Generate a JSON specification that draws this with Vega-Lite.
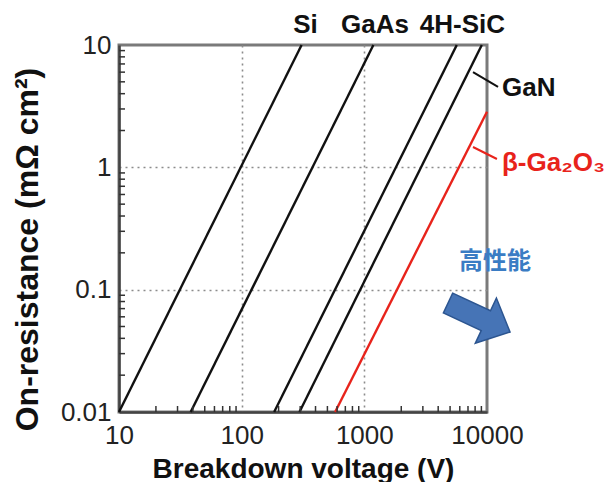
{
  "$schema": "https://vega.github.io/schema/vega-lite/v6.json",
  "width": 368,
  "height": 367,
  "autosize": {"type": "none"},
  "padding": {"left": 119, "top": 45, "right": 123, "bottom": 70},
  "background": "white",
  "config": {"view": {"stroke": "#7a7a7a", "strokeWidth": 3}, "font": "Liberation Sans"},
  "datasets": {
    "lines": [
      {"material": "Si", "V": 10, "R": 0.01}, {"material": "Si", "V": 308, "R": 10},
      {"material": "GaAs", "V": 38.4, "R": 0.01}, {"material": "GaAs", "V": 1185, "R": 10},
      {"material": "4H-SiC", "V": 184, "R": 0.01}, {"material": "4H-SiC", "V": 5670, "R": 10},
      {"material": "GaN", "V": 296, "R": 0.01}, {"material": "GaN", "V": 9070, "R": 10},
      {"material": "β-Ga2O3", "V": 578, "R": 0.01}, {"material": "β-Ga2O3", "V": 10000, "R": 2.85}
    ],
    "toplabels": [
      {"material": "Si", "label": "Si", "V": 331, "R": 14.6},
      {"material": "GaAs", "label": "GaAs", "V": 1222, "R": 14.6},
      {"material": "4H-SiC", "label": "4H-SiC", "V": 6310, "R": 14.6}
    ],
    "sidelabels": [
      {"material": "GaN", "label": "GaN", "V": 13250, "R": 4.45},
      {"material": "β-Ga2O3", "label": "β-Ga₂O₃", "V": 13250, "R": 1.085}
    ],
    "note": [{"material": "高性能", "label": "高性能", "V": 11620, "R": 0.168}],
    "leaders": [
      {"material": "GaN", "V": 7690, "R": 6.0, "V2": 12300, "R2": 4.54},
      {"material": "β-Ga2O3", "V": 7690, "R": 1.466, "V2": 12050, "R2": 1.17}
    ],
    "arrow": [{"material": "高性能", "V": 8610, "R": 0.0592}],
    "xminor": [
      {"material": "Si", "V": 20, "R": 0.01}, {"material": "Si", "V": 30, "R": 0.01}, {"material": "Si", "V": 40, "R": 0.01}, {"material": "Si", "V": 50, "R": 0.01}, {"material": "Si", "V": 60, "R": 0.01}, {"material": "Si", "V": 70, "R": 0.01}, {"material": "Si", "V": 80, "R": 0.01}, {"material": "Si", "V": 90, "R": 0.01},
      {"material": "Si", "V": 200, "R": 0.01}, {"material": "Si", "V": 300, "R": 0.01}, {"material": "Si", "V": 400, "R": 0.01}, {"material": "Si", "V": 500, "R": 0.01}, {"material": "Si", "V": 600, "R": 0.01}, {"material": "Si", "V": 700, "R": 0.01}, {"material": "Si", "V": 800, "R": 0.01}, {"material": "Si", "V": 900, "R": 0.01},
      {"material": "Si", "V": 2000, "R": 0.01}, {"material": "Si", "V": 3000, "R": 0.01}, {"material": "Si", "V": 4000, "R": 0.01}, {"material": "Si", "V": 5000, "R": 0.01}, {"material": "Si", "V": 6000, "R": 0.01}, {"material": "Si", "V": 7000, "R": 0.01}, {"material": "Si", "V": 8000, "R": 0.01}, {"material": "Si", "V": 9000, "R": 0.01}
    ],
    "yminor": [
      {"material": "Si", "V": 10, "R": 0.02}, {"material": "Si", "V": 10, "R": 0.03}, {"material": "Si", "V": 10, "R": 0.04}, {"material": "Si", "V": 10, "R": 0.05}, {"material": "Si", "V": 10, "R": 0.06}, {"material": "Si", "V": 10, "R": 0.07}, {"material": "Si", "V": 10, "R": 0.08}, {"material": "Si", "V": 10, "R": 0.09},
      {"material": "Si", "V": 10, "R": 0.2}, {"material": "Si", "V": 10, "R": 0.3}, {"material": "Si", "V": 10, "R": 0.4}, {"material": "Si", "V": 10, "R": 0.5}, {"material": "Si", "V": 10, "R": 0.6}, {"material": "Si", "V": 10, "R": 0.7}, {"material": "Si", "V": 10, "R": 0.8}, {"material": "Si", "V": 10, "R": 0.9},
      {"material": "Si", "V": 10, "R": 2}, {"material": "Si", "V": 10, "R": 3}, {"material": "Si", "V": 10, "R": 4}, {"material": "Si", "V": 10, "R": 5}, {"material": "Si", "V": 10, "R": 6}, {"material": "Si", "V": 10, "R": 7}, {"material": "Si", "V": 10, "R": 8}, {"material": "Si", "V": 10, "R": 9}
    ]
  },
  "encoding": {
    "x": {
      "field": "V", "type": "quantitative",
      "scale": {"type": "log", "domain": [10, 10000], "nice": false},
      "title": "Breakdown voltage (V)",
      "axis": {
        "values": [10, 100, 1000, 10000],
        "format": "d",
        "labelOverlap": false, "labelFlush": false, "labelBound": false,
        "labelFontSize": 26, "labelColor": "#222", "labelFont": "Liberation Sans",
        "labelPadding": 10,
        "ticks": false,
        "grid": true, "gridColor": "#8c8c8c", "gridDash": [2, 4], "gridWidth": 1.6,
        "gridOpacity": {"condition": {"test": "datum.value == 100 || datum.value == 1000", "value": 1}, "value": 0},
        "domainColor": "#444", "domainWidth": 2.5,
        "titleFontSize": 28, "titleFont": "Liberation Sans", "titleFontWeight": "bold", "titleColor": "#111", "titlePadding": 7
      }
    },
    "y": {
      "field": "R", "type": "quantitative",
      "scale": {"type": "log", "domain": [0.01, 10], "nice": false},
      "title": "On-resistance (mΩ cm²)",
      "axis": {
        "values": [0.01, 0.1, 1, 10],
        "format": "~g",
        "labelOverlap": false, "labelFlush": false, "labelBound": false,
        "labelFontSize": 26, "labelColor": "#222", "labelFont": "Liberation Sans",
        "labelPadding": 8,
        "ticks": false,
        "grid": true, "gridColor": "#8c8c8c", "gridDash": [2, 4], "gridWidth": 1.6,
        "gridOpacity": {"condition": {"test": "datum.value == 0.1 || datum.value == 1", "value": 1}, "value": 0},
        "domainColor": "#444", "domainWidth": 2.5,
        "titleFontSize": 32, "titleFont": "Liberation Sans", "titleFontWeight": "bold", "titleColor": "#111", "titlePadding": 16,
        "titleY": 204
      }
    },
    "color": {
      "field": "material", "type": "nominal",
      "scale": {"domain": ["Si", "GaAs", "4H-SiC", "GaN", "β-Ga2O3", "高性能"], "range": ["#111111", "#111111", "#111111", "#111111", "#e8231b", "#3a7cc4"]},
      "legend": null
    }
  },
  "layer": [
    {
      "data": {"name": "lines"},
      "mark": {"type": "line", "strokeWidth": 2.4},
      "encoding": {"detail": {"field": "material"}}
    },
    {
      "data": {"name": "xminor"},
      "mark": {"type": "point", "shape": "M 0 0 L 0 -1", "filled": false, "size": 144, "strokeWidth": 1.5, "opacity": 1},
      "encoding": {"color": {"value": "#333333"}}
    },
    {
      "data": {"name": "yminor"},
      "mark": {"type": "point", "shape": "M 0 0 L 1 0", "filled": false, "size": 144, "strokeWidth": 1.5, "opacity": 1},
      "encoding": {"color": {"value": "#333333"}}
    },
    {
      "data": {"name": "leaders"},
      "mark": {"type": "rule", "strokeWidth": 2},
      "encoding": {"x2": {"field": "V2"}, "y2": {"field": "R2"}}
    },
    {
      "data": {"name": "toplabels"},
      "mark": {"type": "text", "align": "center", "baseline": "middle", "fontSize": 26, "fontWeight": "bold", "font": "Liberation Sans"},
      "encoding": {"text": {"field": "label"}}
    },
    {
      "data": {"name": "sidelabels"},
      "mark": {"type": "text", "align": "left", "baseline": "middle", "fontSize": 26, "fontWeight": "bold", "font": "Liberation Sans"},
      "encoding": {"text": {"field": "label"}}
    },
    {
      "data": {"name": "note"},
      "mark": {"type": "text", "align": "center", "baseline": "middle", "fontSize": 24, "fontWeight": "bold", "font": "Noto Sans CJK JP"},
      "encoding": {"text": {"field": "label"}}
    },
    {
      "data": {"name": "arrow"},
      "mark": {"type": "point", "shape": "M -1 -0.32 L 0.22 -0.32 L 0.22 -0.73 L 1 0 L 0.22 0.73 L 0.22 0.32 L -1 0.32 Z", "filled": true, "size": 4680, "angle": 25, "stroke": "#2c5590", "strokeWidth": 1.5, "opacity": 1},
      "encoding": {"color": {"value": "#4674b6"}}
    }
  ]
}
